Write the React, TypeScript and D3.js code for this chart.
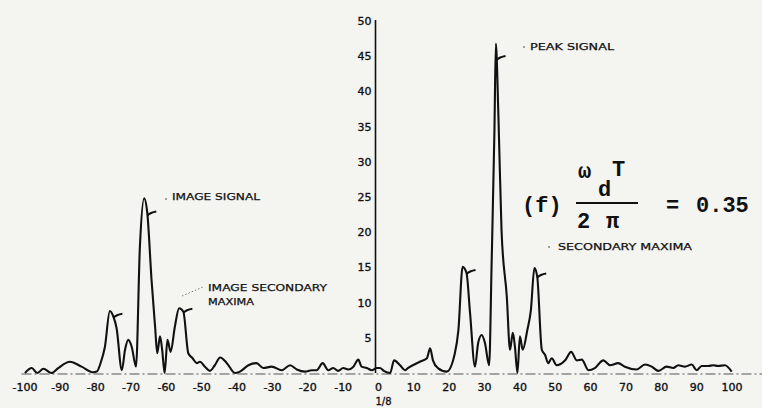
import { useEffect, useRef } from "react";
import * as d3 from "d3";

// delay axis (tau / delta) and matched filter output
const tau = [
  -100, -98.1, -96.5, -94.8, -92.5, -90.6, -87.3, -84.0, -80.7, -79.7, -78.5,
  -77.4, -76.0, -75.0, -74.1, -72.6, -71.7, -70.8, -69.8, -68.6, -67.5, -66.3,
  -65.4, -64.2, -63.2, -62.6, -61.8, -61.2, -60.5, -59.7, -58.8, -57.6, -56.4,
  -55.2, -53.8, -52.6, -51.4, -50.5, -49.1, -47.7, -46.3, -44.8, -42.9, -40.6,
  -39.2, -36.8, -34.5, -32.6, -30.2, -27.4, -25.0, -23.1, -20.8, -18.9, -17.5,
  -15.8, -14.2, -12.8, -11.4, -10.0, -8.5, -7.1, -5.7, -4.8, -3.3, -1.9, -0.5,
  0.4, 1.5, 3.3, 4.4, 6.1, 7.5, 8.3, 11.7, 13.7, 14.6, 15.4, 16.8, 19.3, 21.6,
  22.6, 23.8, 24.9, 25.9, 27.3, 28.2, 29.2, 30.1, 31.3, 32.0, 32.8, 33.2, 33.9,
  34.8, 36.3, 37.2, 38.0, 38.6, 39.3, 40.0, 40.8, 42.1, 43.1, 44.1, 44.9, 46.2,
  47.1, 48.0, 49.0, 50.4, 52.8, 54.5, 56.1, 57.5, 59.4, 61.2, 63.6, 65.5, 67.8,
  69.7, 73.0, 75.4, 77.3, 79.2, 81.5, 83.4, 84.8, 86.7, 88.6, 90.0, 91.4, 93.3,
  94.7, 96.1, 98.0, 99.9,
];
const signal = [
  0, 0.7, 0, 0.6, 0, 0.7, 1.6, 0.9, 0.1, 0.2, 1.6,
  3.7, 8.8, 8.0, 6.4, 0.4, 3.3, 4.7, 3.7, 0.9, 17.9, 24.8,
  22.7, 13.2, 6.6, 2.8, 5.2, 3.3, 0, 4.7, 3.0, 6.6, 9.2,
  8.7, 2.8, 2.1, 1.4, 1.6, 0.9, 0.3, 1.1, 2.2, 1.4, 0,
  0.2, 1.1, 1.4, 0.7, 0.9, 0.4, 1.1, 0.5, 0.2, 0.4, 0.4,
  1.4, 0.4, 0.7, 0.3, 0.7, 0.5, 0.9, 1.9, 0.9, 0.7, 0.4, 0.7,
  0.7, 0.3, 0, 1.8, 1.1, 0.4, 0.7, 1.6, 2.1, 3.5, 1.8, 0.7, 0.2, 2.8,
  6.1, 15.1, 14.2, 8.5, 0.9, 4.3, 5.4, 4.3, 1.1, 15.6, 34.5, 46.8, 36.9,
  20.3, 10.8, 3.3, 5.7, 3.7, 0, 5.2, 3.3, 6.1, 8.9, 14.9, 13.7, 3.3,
  2.6, 1.4, 2.1, 1.1, 1.8, 3.0, 1.8, 1.9, 0.4, 0.7, 1.8, 1.1, 1.4,
  0.9, 0.5, 1.2, 0.9, 0.3, 0.9, 0.7, 1.1, 0.9, 1.2, 0.4, 1.0, 1.0,
  1.1, 1.0, 1.1, 0.2,
];

const xTicks = d3.range(-100, 101, 10);
const yTicks = [5, 10, 15, 20, 25, 30, 35, 40, 45, 50];

// little hooks the draftsman put on the peaks
const markTau = [-75.0, -65.4, -55.2, 24.9, 33.4, 44.9];
const markVal = [8.0, 22.5, 8.7, 14.2, 44.6, 13.7];

const W = 762;
const H = 408;
const INK = "#111";
const FONT = "'DejaVu Sans', sans-serif";
const MONO = "'Liberation Mono', 'DejaVu Sans Mono', monospace";

export default function App() {
  const svgRef = useRef<SVGSVGElement | null>(null);

  useEffect(() => {
    const svg = d3.select(svgRef.current);
    svg.selectAll("*").remove();

    const x = d3.scaleLinear().domain([-100, 100]).range([25, 732]);
    const y = d3.scaleLinear().domain([0, 50]).range([373, 21]);

    svg.append("rect").attr("width", W).attr("height", H).attr("fill", "#f4f4f1");

    // dash-dot zero line
    svg
      .append("line")
      .attr("x1", x(-101))
      .attr("x2", W)
      .attr("y1", y(0) + 1)
      .attr("y2", y(0) + 1)
      .attr("stroke", "#555")
      .attr("stroke-width", 1)
      .attr("stroke-dasharray", "10 3 2 3");

    // vertical axis
    svg
      .append("line")
      .attr("x1", x(0) - 3)
      .attr("x2", x(0) - 3)
      .attr("y1", y(50) - 1)
      .attr("y2", y(0))
      .attr("stroke", INK)
      .attr("stroke-width", 1.6);

    svg
      .append("g")
      .selectAll("text")
      .data(yTicks)
      .enter()
      .append("text")
      .attr("x", x(0) - 7)
      .attr("y", (d) => y(d) + 4)
      .attr("text-anchor", "end")
      .attr("font-family", FONT)
      .attr("font-size", 11)
      .attr("fill", INK)
      .attr("stroke", INK)
      .attr("stroke-width", 0.35)
      .text((d) => d);

    svg
      .append("g")
      .selectAll("text")
      .data(xTicks)
      .enter()
      .append("text")
      .attr("x", (d) => x(d))
      .attr("y", 391)
      .attr("text-anchor", "middle")
      .attr("font-family", FONT)
      .attr("font-size", 11)
      .attr("fill", INK)
      .attr("stroke", INK)
      .attr("stroke-width", 0.35)
      .text((d) => (d < 0 ? "-" + Math.abs(d) : d));

    svg
      .append("text")
      .attr("x", x(0) + 5)
      .attr("y", 405)
      .attr("text-anchor", "middle")
      .attr("font-family", FONT)
      .attr("font-size", 10)
      .attr("fill", INK)
      .attr("stroke", INK)
      .attr("stroke-width", 0.3)
      .text("1/8");

    // the curve
    const pts = tau.map((t, i) => [t, signal[i]] as [number, number]);
    const line = d3
      .line<[number, number]>()
      .x((d) => x(d[0]))
      .y((d) => y(d[1]))
      .curve(d3.curveMonotoneX);
    svg
      .append("path")
      .datum(pts)
      .attr("d", line)
      .attr("fill", "none")
      .attr("stroke", INK)
      .attr("stroke-width", 2.1)
      .attr("stroke-linejoin", "round");

    // hooks on the peaks
    svg
      .append("g")
      .selectAll("path")
      .data(markTau.map((t, i) => [t, markVal[i]]))
      .enter()
      .append("path")
      .attr("d", (d) => {
        const px = x(d[0]);
        const py = y(d[1]);
        return `M${px},${py + 1} Q${px + 3},${py - 2} ${px + 9},${py - 3}`;
      })
      .attr("fill", "none")
      .attr("stroke", INK)
      .attr("stroke-width", 2);

    // annotations
    const labels = [
      { t: "PEAK SIGNAL", x: 530, y: 50, w: 84 },
      { t: "IMAGE SIGNAL", x: 172, y: 200, w: 88 },
      { t: "IMAGE SECONDARY", x: 208, y: 291, w: 119 },
      { t: "MAXIMA", x: 208, y: 305, w: 46 },
      { t: "SECONDARY MAXIMA", x: 558, y: 250, w: 134 },
    ];
    svg
      .append("g")
      .selectAll("text")
      .data(labels)
      .enter()
      .append("text")
      .attr("x", (d) => d.x)
      .attr("y", (d) => d.y)
      .attr("textLength", (d) => d.w)
      .attr("lengthAdjust", "spacingAndGlyphs")
      .attr("font-family", FONT)
      .attr("font-size", 9.5)
      .attr("fill", INK)
      .attr("stroke", INK)
      .attr("stroke-width", 0.25)
      .text((d) => d.t);

    // faint leaders
    svg
      .append("line")
      .attr("x1", 182)
      .attr("y1", 296)
      .attr("x2", 203)
      .attr("y2", 287)
      .attr("stroke", "#777")
      .attr("stroke-width", 1)
      .attr("stroke-dasharray", "1.5 2");
    [
      [549, 247],
      [524, 47],
      [166, 199],
    ].forEach(([cx, cy]) =>
      svg.append("circle").attr("cx", cx).attr("cy", cy).attr("r", 0.9).attr("fill", "#777")
    );

    // (f) wd T / 2 pi = 0.35
    const f = svg
      .append("g")
      .attr("font-family", MONO)
      .attr("font-weight", "bold")
      .attr("font-size", 22)
      .attr("fill", INK);
    f.append("text").attr("x", 522).attr("y", 212).text("(f)");
    f.append("text").attr("x", 578).attr("y", 178).text("ω");
    f.append("text").attr("x", 598).attr("y", 196).text("d");
    f.append("text").attr("x", 612).attr("y", 176).text("T");
    f.append("line")
      .attr("x1", 576)
      .attr("x2", 638)
      .attr("y1", 203)
      .attr("y2", 203)
      .attr("stroke", INK)
      .attr("stroke-width", 2);
    f.append("text").attr("x", 577).attr("y", 228).text("2");
    f.append("text").attr("x", 606).attr("y", 228).text("π");
    f.append("text").attr("x", 666).attr("y", 212).text("=");
    f.append("text").attr("x", 696).attr("y", 212).text("0.35");
  }, []);

  return (
    <div style={{ position: "absolute", left: 0, top: 0 }}>
      <svg ref={svgRef} width={W} height={H} style={{ display: "block" }} />
    </div>
  );
}
